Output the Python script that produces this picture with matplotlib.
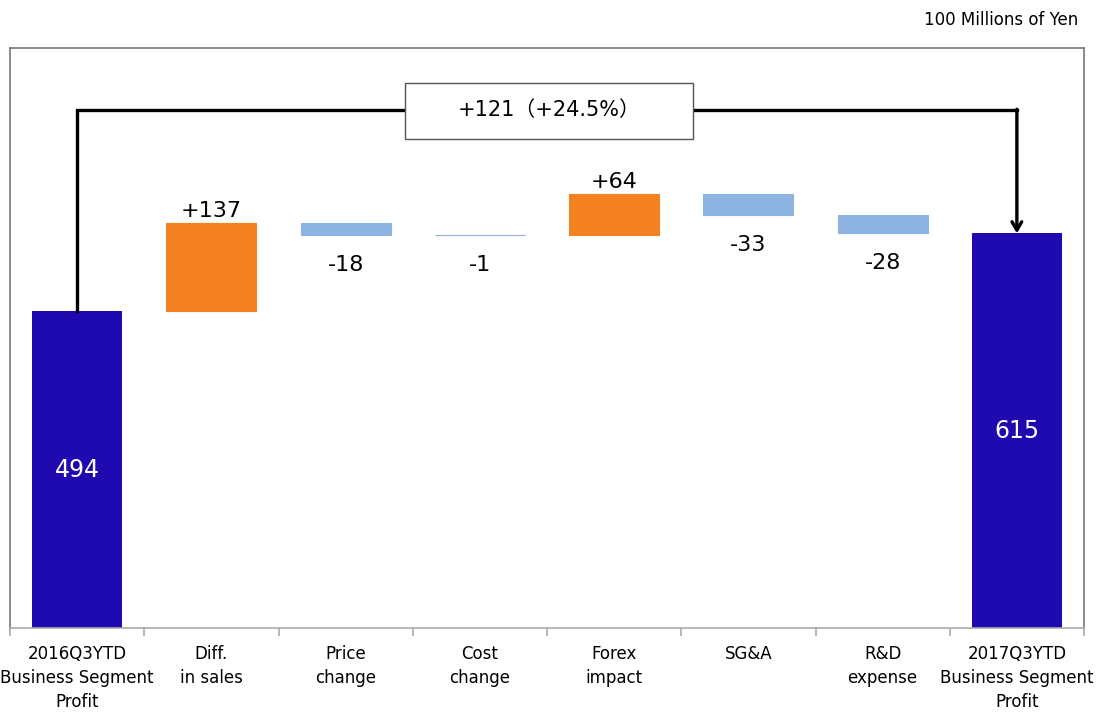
import matplotlib
matplotlib.use("Agg")
import matplotlib.pyplot as plt
from matplotlib.patches import Rectangle
import numpy as np

plt.rcParams["font.family"] = ["DejaVu Sans", "Noto Sans CJK JP"]

categories = ["2016Q3YTD\nBusiness Segment\nProfit", "Diff.\nin sales", "Price\nchange",
              "Cost\nchange", "Forex\nimpact", "SG&A", "R&D\nexpense",
              "2017Q3YTD\nBusiness Segment\nProfit"]
start_value = 494
changes = [137, -18, -1, 64, -33, -28]
end_value = 615
change_labels = ["+137", "-18", "-1", "+64", "-33", "-28"]
total_label = "+121（+24.5%）"

DARK = "#1f0ab0"
UP = "#f58220"
DOWN = "#8db3e2"

fig = plt.figure(figsize=(10.98, 7.18), dpi=100)
ax = fig.add_axes([10 / 1098, 90 / 718, 1074 / 1098, 580 / 718])
ax.set_xlim(-0.5, 7.5)
ax.set_ylim(0, 904)

w = 0.67
ax.bar(0, start_value, w, color=DARK)
ax.text(0, start_value / 2, str(start_value), ha="center", va="center",
        color="white", fontsize=17)

level = start_value
for i, (d, lab) in enumerate(zip(changes, change_labels), start=1):
    bottom = min(level, level + d)
    ax.bar(i, abs(d), w, bottom=bottom, color=UP if d > 0 else DOWN,
           edgecolor=UP if d > 0 else DOWN, linewidth=0.8)
    if d > 0:
        ax.text(i, level + d + 4, lab, ha="center", va="bottom", fontsize=16)
    else:
        ax.text(i, level + d - 31, lab, ha="center", va="top", fontsize=16)
    level += d

ax.bar(7, end_value, w, color=DARK)
ax.text(7, end_value / 2, str(end_value), ha="center", va="center",
        color="white", fontsize=17)

# bracket with total change
top_y = 807
ax.plot([0, 0, 7], [start_value, top_y, top_y], color="black", lw=2.4,
        solid_joinstyle="miter", zorder=3)
ax.annotate("", xy=(7, end_value), xytext=(7, top_y + 1.5),
            arrowprops=dict(arrowstyle="->,head_width=0.35,head_length=0.6",
                            color="black", lw=2.4, shrinkA=0, shrinkB=0),
            zorder=3)
ax.add_patch(Rectangle((2.44, 762), 2.15, 88, facecolor="white",
                       edgecolor="#555555", lw=1.0, zorder=4))
ax.text(3.515, 808, total_label, ha="center", va="center", fontsize=15, zorder=5)

# axes styling
for s in ["left", "right", "top"]:
    ax.spines[s].set_color("#777777")
    ax.spines[s].set_linewidth(1.2)
ax.spines["bottom"].set_color("#aaaaaa")
ax.spines["bottom"].set_linewidth(1.2)
ax.set_yticks([])
ax.set_xticks(np.arange(8))
ax.set_xticklabels(categories, fontsize=12, linespacing=1.45, va="top")
ax.tick_params(axis="x", which="major", length=0, pad=12)
ax.set_xticks(np.arange(-0.5, 8, 1), minor=True)
ax.tick_params(axis="x", which="minor", length=6, color="#aaaaaa", width=1.2)

fig.text(1078 / 1098, 1 - 20 / 718, "100 Millions of Yen", ha="right",
         va="center", fontsize=12)

fig.savefig("out.png", dpi=100)
